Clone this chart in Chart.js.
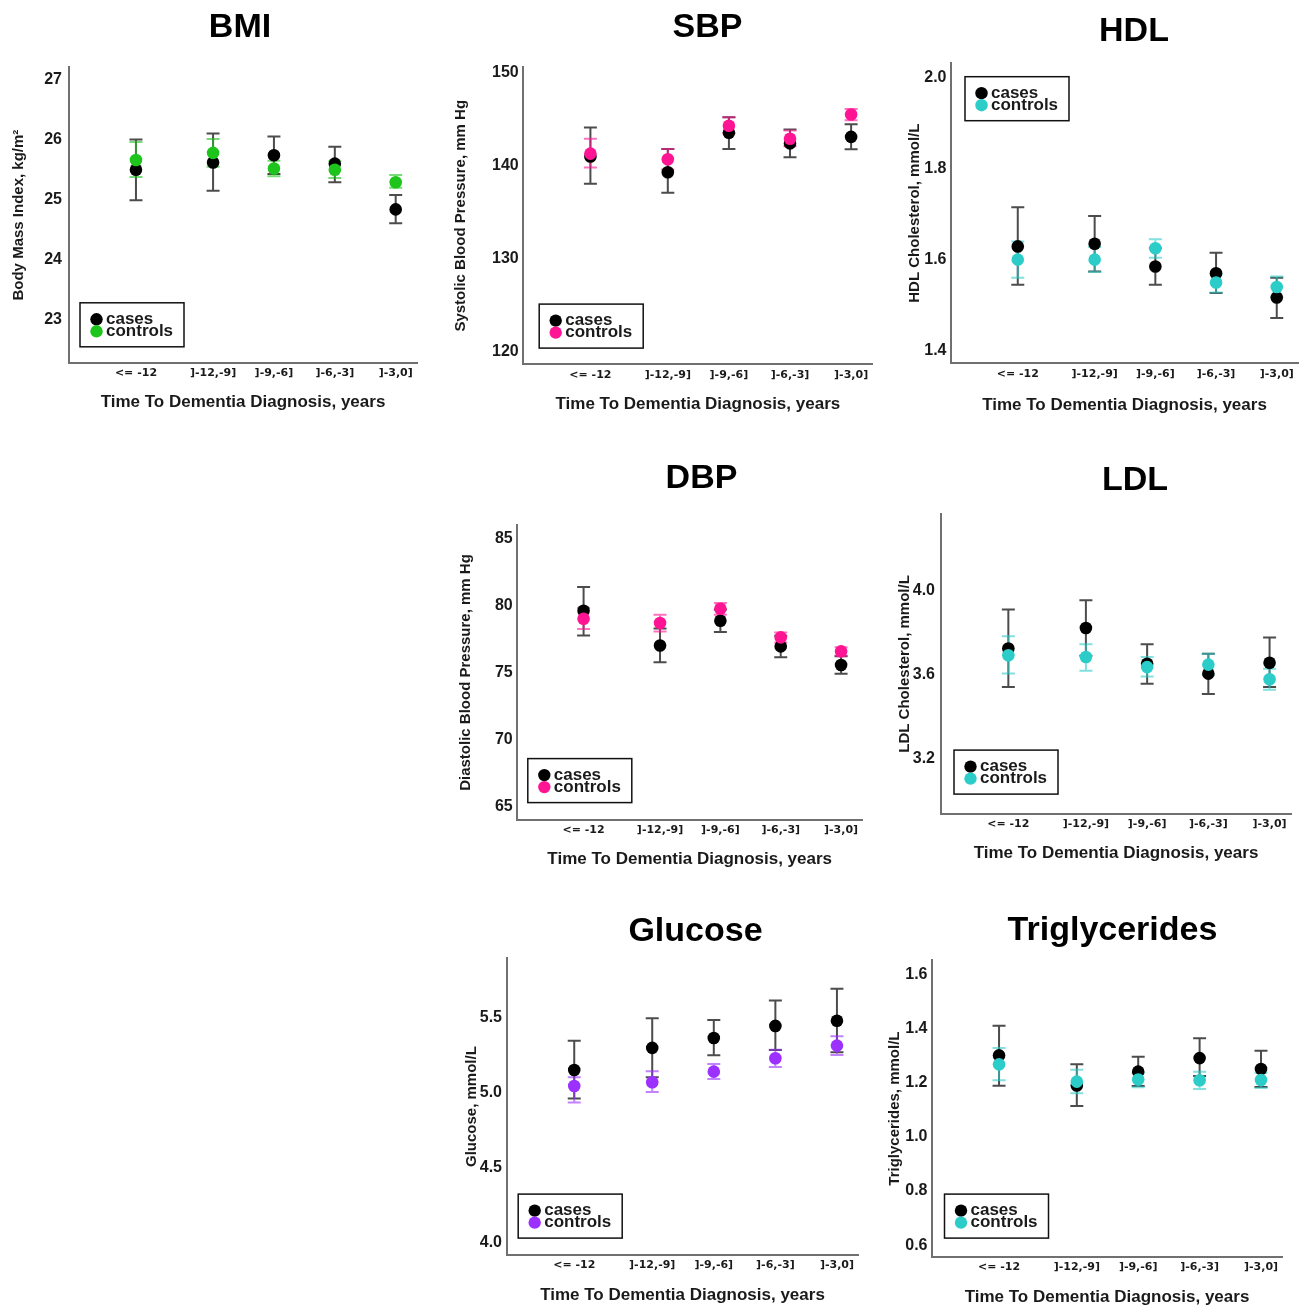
<!DOCTYPE html>
<html>
<head>
<meta charset="utf-8">
<script src="https://cdn.jsdelivr.net/npm/chart.js@4.4.1/dist/chart.umd.min.js"></script>
<style>
html,body{margin:0;padding:0;background:#fff;}
body{width:1301px;height:1306px;position:relative;overflow:hidden;}
.panel{position:absolute;}
.panel canvas{display:block;}
</style>
</head>
<body>
<script>
// ---------- shared categories ----------
const groupLabels = ['<= -12', ']-12,-9]', ']-9,-6]', ']-6,-3]', ']-3,0]'];
const groupTimes = [-14.3, -10.5, -7.5, -4.5, -1.5];
const seriesNames = ['cases', 'controls'];

// ---------- BMI ----------
const bmiTicks = [23, 24, 25, 26, 27];
const bmiCases = [25.50, 25.62, 25.74, 25.60, 24.84];
const bmiCasesLow = [24.99, 25.15, 25.43, 25.29, 24.61];
const bmiCasesHigh = [26.00, 26.10, 26.05, 25.88, 25.08];
const bmiControls = [25.66, 25.78, 25.52, 25.50, 25.29];
const bmiControlsLow = [25.38, 25.55, 25.39, 25.36, 25.20];
const bmiControlsHigh = [25.96, 26.01, 25.65, 25.64, 25.41];

// ---------- SBP ----------
const sbpTicks = [120, 130, 140, 150];
const sbpCases = [141.0, 139.3, 143.55, 142.4, 143.1];
const sbpCasesLow = [138.06, 137.1, 141.8, 140.9, 141.76];
const sbpCasesHigh = [144.1, 141.8, 145.2, 143.9, 144.45];
const sbpControls = [141.3, 140.7, 144.3, 142.9, 145.5];
const sbpControlsLow = [139.8, 139.6, 143.5, 142.1, 144.9];
const sbpControlsHigh = [142.9, 141.8, 145.2, 143.8, 146.1];

// ---------- HDL ----------
const hdlTicks = [1.4, 1.6, 1.8, 2.0];
const hdlCases = [1.629, 1.635, 1.585, 1.570, 1.517];
const hdlCasesLow = [1.545, 1.574, 1.545, 1.527, 1.472];
const hdlCasesHigh = [1.715, 1.696, 1.625, 1.615, 1.560];
const hdlControls = [1.600, 1.600, 1.625, 1.550, 1.540];
const hdlControlsLow = [1.560, 1.573, 1.604, 1.528, 1.518];
const hdlControlsHigh = [1.640, 1.628, 1.645, 1.567, 1.563];

// ---------- DBP ----------
const dbpTicks = [65, 70, 75, 80, 85];
const dbpCases = [79.63, 77.04, 78.88, 76.97, 75.58];
const dbpCasesLow = [77.79, 75.78, 78.04, 76.17, 74.93];
const dbpCasesHigh = [81.39, 78.30, 79.72, 77.77, 76.23];
const dbpControls = [79.03, 78.71, 79.78, 77.64, 76.60];
const dbpControlsLow = [78.26, 78.09, 79.33, 77.27, 76.27];
const dbpControlsHigh = [79.83, 79.33, 80.20, 78.01, 76.90];

// ---------- LDL ----------
const ldlTicks = [3.2, 3.6, 4.0];
const ldlCases = [3.724, 3.822, 3.652, 3.605, 3.657];
const ldlCasesLow = [3.541, 3.690, 3.557, 3.508, 3.541];
const ldlCasesHigh = [3.909, 3.953, 3.744, 3.700, 3.776];
const ldlControls = [3.692, 3.684, 3.636, 3.648, 3.578];
const ldlControlsLow = [3.606, 3.619, 3.592, 3.600, 3.529];
const ldlControlsHigh = [3.782, 3.744, 3.684, 3.700, 3.628];

// ---------- Glucose ----------
const gluTicks = [4.0, 4.5, 5.0, 5.5];
const gluCases = [5.149, 5.296, 5.362, 5.442, 5.476];
const gluCasesLow = [4.960, 5.100, 5.247, 5.282, 5.267];
const gluCasesHigh = [5.344, 5.493, 5.482, 5.611, 5.689];
const gluControls = [5.042, 5.067, 5.138, 5.227, 5.311];
const gluControlsLow = [4.933, 5.002, 5.089, 5.169, 5.249];
const gluControlsHigh = [5.100, 5.140, 5.189, 5.284, 5.373];

// ---------- Triglycerides ----------
const tgTicks = [0.6, 0.8, 1.0, 1.2, 1.4, 1.6];
const tgCases = [1.301, 1.190, 1.241, 1.291, 1.251];
const tgCasesLow = [1.189, 1.114, 1.188, 1.225, 1.184];
const tgCasesHigh = [1.411, 1.268, 1.296, 1.364, 1.318];
const tgControls = [1.268, 1.204, 1.212, 1.209, 1.210];
const tgControlsLow = [1.209, 1.161, 1.183, 1.177, 1.181];
const tgControlsHigh = [1.328, 1.248, 1.237, 1.241, 1.237];

// ---------- styles ----------
const FONT = "'Liberation Sans', Arial, Helvetica, sans-serif";
const casesColor = '#000000';
const casesBarColor = 'rgba(45,45,45,0.85)';
const GREEN = '#1cc41c', PINK = '#ff1493', CYAN = '#2ccdc9', PURPLE = '#9b30ff';
function fade(hex, a) {
  const n = parseInt(hex.slice(1), 16);
  return `rgba(${(n >> 16) & 255},${(n >> 8) & 255},${n & 255},${a})`;
}

// ---------- plugins ----------
const errorBars = {
  id: 'errorBars',
  beforeDatasetsDraw(chart) {
    const {ctx, scales} = chart;
    const xs = scales.x, ys = scales.y;
    chart.data.datasets.forEach(ds => {
      ctx.save();
      ctx.strokeStyle = ds.errColor;
      ctx.lineWidth = 2;
      ds.data.forEach((p, i) => {
        const px = xs.getPixelForValue(p.x);
        const y0 = ys.getPixelForValue(ds.errLow[i]);
        const y1 = ys.getPixelForValue(ds.errHigh[i]);
        const hw = 6.5;
        ctx.beginPath();
        ctx.moveTo(px, y0); ctx.lineTo(px, y1);
        ctx.moveTo(px - hw, y0); ctx.lineTo(px + hw, y0);
        ctx.moveTo(px - hw, y1); ctx.lineTo(px + hw, y1);
        ctx.stroke();
      });
      ctx.restore();
    });
  }
};

const cornerLegend = {
  id: 'cornerLegend',
  afterDatasetsDraw(chart, args, opts) {
    const {ctx, chartArea: a} = chart;
    const w = 104, h = 44;
    const x = a.left + opts.dx;
    const y = opts.corner === 'tl' ? a.top + opts.dy : a.bottom - opts.dy - h;
    ctx.save();
    ctx.fillStyle = '#ffffff';
    ctx.fillRect(x, y, w, h);
    ctx.lineWidth = 1.5;
    ctx.strokeStyle = '#111111';
    ctx.strokeRect(x, y, w, h);
    ctx.font = `bold 17px ${FONT}`;
    ctx.textAlign = 'left';
    ctx.textBaseline = 'alphabetic';
    chart.data.datasets.forEach((ds, i) => {
      const cy = y + 16.5 + i * 12;
      ctx.fillStyle = ds.backgroundColor;
      ctx.beginPath();
      ctx.arc(x + 16.5, cy, 6.2, 0, Math.PI * 2);
      ctx.fill();
      ctx.fillStyle = '#1a1a1a';
      ctx.fillText(ds.label, x + 26, cy + 4.6);
    });
    ctx.restore();
  }
};

// ---------- panels (layout) ----------
const panels = [
  {title: 'BMI', yTitle: 'Body Mass Index, kg/m\u00B2', ticks: bmiTicks, dec: 0, yMin: 22.29, yMax: 27.2,
   cases: bmiCases, casesLow: bmiCasesLow, casesHigh: bmiCasesHigh,
   controls: bmiControls, controlsLow: bmiControlsLow, controlsHigh: bmiControlsHigh, color: GREEN,
   L: 69, R: 417, T: 67, B: 362, titleX: 240, titleY: 27, yTitleX: 19, xTitleY: 402, tickPad: 7,
   legend: {corner: 'bl', dx: 11, dy: 16}},
  {title: 'SBP', yTitle: 'Systolic Blood Pressure, mm Hg', ticks: sbpTicks, dec: 0, yMin: 118.68, yMax: 150.57,
   cases: sbpCases, casesLow: sbpCasesLow, casesHigh: sbpCasesHigh,
   controls: sbpControls, controlsLow: sbpControlsLow, controlsHigh: sbpControlsHigh, color: PINK,
   L: 522.7, R: 872, T: 67, B: 363.3, titleX: 707, titleY: 27, yTitleX: 460.5, xTitleY: 404, tickPad: 4.5,
   legend: {corner: 'bl', dx: 16, dy: 16}},
  {title: 'HDL', yTitle: 'HDL Cholesterol, mmol/L', ticks: hdlTicks, dec: 1, yMin: 1.373, yMax: 2.031,
   cases: hdlCases, casesLow: hdlCasesLow, casesHigh: hdlCasesHigh,
   controls: hdlControls, controlsLow: hdlControlsLow, controlsHigh: hdlControlsHigh, color: CYAN,
   L: 951, R: 1298, T: 63.3, B: 363.3, titleX: 1134, titleY: 31.5, yTitleX: 915, xTitleY: 406, tickPad: 4.5,
   legend: {corner: 'tl', dx: 14, dy: 13.5}},
  {title: 'DBP', yTitle: 'Diastolic Blood Pressure, mm Hg', ticks: dbpTicks, dec: 0, yMin: 64.06, yMax: 85.99,
   cases: dbpCases, casesLow: dbpCasesLow, casesHigh: dbpCasesHigh,
   controls: dbpControls, controlsLow: dbpControlsLow, controlsHigh: dbpControlsHigh, color: PINK,
   L: 516.7, R: 861.7, T: 525, B: 819.3, titleX: 701, titleY: 478, yTitleX: 465.5, xTitleY: 859.5, tickPad: 4.5,
   legend: {corner: 'bl', dx: 10.6, dy: 17}},
  {title: 'LDL', yTitle: 'LDL Cholesterol, mmol/L', ticks: ldlTicks, dec: 1, yMin: 2.941, yMax: 4.361,
   cases: ldlCases, casesLow: ldlCasesLow, casesHigh: ldlCasesHigh,
   controls: ldlControls, controlsLow: ldlControlsLow, controlsHigh: ldlControlsHigh, color: CYAN,
   L: 941, R: 1291, T: 514, B: 812.7, titleX: 1135, titleY: 480, yTitleX: 905, xTitleY: 853, tickPad: 6,
   legend: {corner: 'bl', dx: 13, dy: 19.4}},
  {title: 'Glucose', yTitle: 'Glucose, mmol/L', ticks: gluTicks, dec: 1, yMin: 3.92, yMax: 5.891,
   cases: gluCases, casesLow: gluCasesLow, casesHigh: gluCasesHigh,
   controls: gluControls, controlsLow: gluControlsLow, controlsHigh: gluControlsHigh, color: PURPLE,
   L: 506, R: 858, T: 958, B: 1254, titleX: 695, titleY: 931, yTitleX: 471.5, xTitleY: 1295, tickPad: 4.5,
   legend: {corner: 'bl', dx: 11.7, dy: 16.7}},
  {title: 'Triglycerides', yTitle: 'Triglycerides, mmol/L', ticks: tgTicks, dec: 1, yMin: 0.557, yMax: 1.652,
   cases: tgCases, casesLow: tgCasesLow, casesHigh: tgCasesHigh,
   controls: tgControls, controlsLow: tgControlsLow, controlsHigh: tgControlsHigh, color: CYAN,
   L: 931, R: 1282, T: 960, B: 1256, titleX: 1112, titleY: 930, yTitleX: 894.5, xTitleY: 1297, tickPad: 4,
   legend: {corner: 'bl', dx: 13, dy: 18.7}}
];

const X_MIN = -17.6, X_MAX = -0.45;

function buildPanel(p) {
  const TITLE_SIZE = 34, TITLE_LH = 1.2, TITLE_PADTOP = 4;
  const YT_SIZE = 15, XT_SIZE = 17;
  const cl = p.yTitleX - 12;                       // y-title center = cl + 3 + 9
  const ct = p.titleY - TITLE_PADTOP - TITLE_SIZE * TITLE_LH / 2;
  const cr = Math.max(2 * p.titleX - cl, p.R + 1);
  const cb = p.xTitleY + 4 + XT_SIZE * 1.2 / 2;
  const yW = p.L - cl;
  const xH = p.B - p.B + (cb - p.B);
  const extra = cr - p.R;
  const titlePadBottom = (p.T - ct) - TITLE_PADTOP - TITLE_SIZE * TITLE_LH;

  const W = Math.round(cr - cl), H = Math.round(cb - ct);
  const div = document.createElement('div');
  div.className = 'panel';
  div.style.left = cl + 'px';
  div.style.top = ct + 'px';
  div.style.width = W + 'px';
  div.style.height = H + 'px';
  const cv = document.createElement('canvas');
  cv.width = W; cv.height = H;
  cv.style.width = W + 'px'; cv.style.height = H + 'px';
  div.appendChild(cv);
  document.body.appendChild(div);

  const pts = arr => arr.map((v, i) => ({x: groupTimes[i], y: v}));

  new Chart(cv, {
    type: 'scatter',
    data: {
      datasets: [
        {label: seriesNames[0], data: pts(p.cases), errLow: p.casesLow, errHigh: p.casesHigh,
         backgroundColor: casesColor, errColor: casesBarColor, pointRadius: 6.3, pointHoverRadius: 6.3,
         borderWidth: 0, order: 1},
        {label: seriesNames[1], data: pts(p.controls), errLow: p.controlsLow, errHigh: p.controlsHigh,
         backgroundColor: p.color, errColor: fade(p.color, 0.6), pointRadius: 6.3, pointHoverRadius: 6.3,
         borderWidth: 0, order: 0}
      ]
    },
    options: {
      responsive: false,
      animation: false,
      events: [],
      layout: {padding: 0},
      plugins: {
        legend: {display: false},
        tooltip: {enabled: false},
        title: {
          display: true, text: p.title, color: '#000',
          font: {family: FONT, size: TITLE_SIZE, weight: 'bold', lineHeight: TITLE_LH},
          padding: {top: TITLE_PADTOP, bottom: titlePadBottom}
        },
        cornerLegend: p.legend
      },
      scales: {
        x: {
          type: 'linear', position: 'bottom', min: X_MIN, max: X_MAX,
          grid: {display: false, drawTicks: false},
          border: {display: true, color: '#707070', width: 2},
          afterBuildTicks: s => { s.ticks = groupTimes.map(v => ({value: v})); },
          afterFit: s => { s.height = xH; },
          ticks: {
            autoSkip: false, maxRotation: 0, minRotation: 0, padding: 4, color: '#1a1a1a',
            font: {family: "'DejaVu Sans', sans-serif", size: 11, weight: 'bold', lineHeight: 1.2},
            callback: (v, i) => groupLabels[i]
          },
          title: {
            display: true, text: 'Time To Dementia Diagnosis, years', color: '#1a1a1a',
            font: {family: FONT, size: XT_SIZE, weight: 'bold', lineHeight: 1.2},
            padding: {top: 0, bottom: 4}
          }
        },
        y: {
          type: 'linear', position: 'left', min: p.yMin, max: p.yMax,
          grid: {display: false, drawTicks: false},
          border: {display: true, color: '#707070', width: 2},
          afterBuildTicks: s => { s.ticks = p.ticks.map(v => ({value: v})); },
          afterFit: s => { s.width = yW; },
          ticks: {
            padding: p.tickPad, color: '#1a1a1a',
            font: {family: FONT, size: 16, weight: 'bold', lineHeight: 1.2},
            callback: v => Number(v).toFixed(p.dec)
          },
          title: {
            display: true, text: p.yTitle, color: '#1a1a1a',
            font: {family: FONT, size: YT_SIZE, weight: 'bold', lineHeight: 1.2},
            padding: {top: 3, bottom: 0}
          }
        },
        pad: {
          type: 'linear', position: 'right', display: true,
          grid: {display: false, drawTicks: false},
          border: {display: false},
          ticks: {display: false},
          afterFit: s => { s.width = extra; }
        }
      }
    },
    plugins: [errorBars, cornerLegend]
  });
}

panels.forEach(buildPanel);
</script>
</body>
</html>
